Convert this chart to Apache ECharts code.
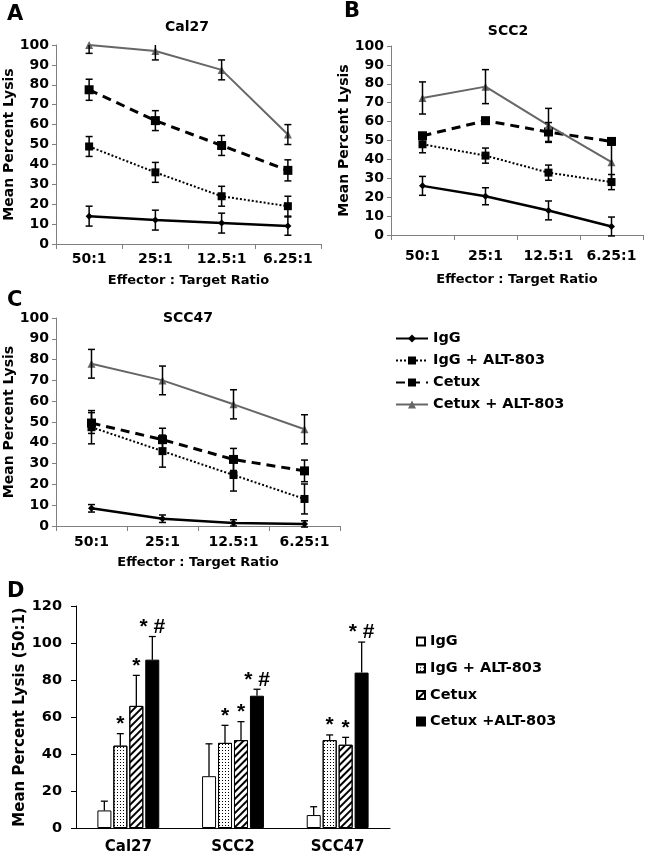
<!DOCTYPE html>
<html>
<head>
<meta charset="utf-8">
<script src="https://cdn.jsdelivr.net/npm/echarts@6/dist/echarts.min.js"></script>
<style>
  html, body { margin: 0; background: #fff; }
  #chart { width: 646px; height: 859px; }
</style>
</head>
<body>
<div id="chart"></div>
<script>
// ---- data ----
const ratios = ['50:1', '25:1', '12.5:1', '6.25:1'];
const lineNames = ['IgG', 'IgG + ALT-803', 'Cetux', 'Cetux + ALT-803'];

// rows: IgG, IgG + ALT-803, Cetux, Cetux + ALT-803
const cal27Mean = [
  [14, 12, 10.5, 9],
  [49, 36, 24, 19],
  [77.5, 62, 49.5, 37],
  [100, 97, 87.5, 55]
];
const cal27Err = [
  [5, 5, 5, 4.6],
  [5, 5, 5, 5],
  [5.3, 5, 5, 5.3],
  [4.2, 4.5, 5, 5]
];

const scc2Mean = [
  [26, 20.5, 13, 4.5],
  [48, 42, 33, 28],
  [52.5, 60.5, 54.5, 49.5],
  [72.5, 78.5, 58, 38.5]
];
const scc2Err = [
  [5, 4.5, 5, 5],
  [4.5, 4, 4, 4],
  [1.5, 1.5, 5, 1.5],
  [8.5, 9, 9, 9]
];

const scc47Mean = [
  [8.5, 3.5, 1.5, 1],
  [47.5, 36, 24.5, 13],
  [49.5, 41.5, 32, 26.5],
  [78, 70, 58.5, 46.5]
];
const scc47Err = [
  [1.8, 1.8, 1.5, 1.5],
  [8, 7.7, 7.7, 7.2],
  [5, 5.5, 5.3, 5.2],
  [6.9, 6.9, 7, 7]
];

const cellLines = ['Cal27', 'SCC2', 'SCC47'];
const barNames = ['IgG', 'IgG + ALT-803', 'Cetux', 'Cetux +ALT-803'];
const barMeans = [
  [9.5, 28, 7],
  [44.5, 46, 47.5],
  [66, 47.5, 45],
  [91, 71.5, 84]
];
const barErrs = [
  [5, 17.5, 4.5],
  [6.5, 9.5, 2.8],
  [16.5, 10, 4],
  [12.5, 3.5, 16.5]
];
const barMarks = [
  ['', '', ''],
  ['*', '*', '*'],
  ['*', '*', '*'],
  ['* #', '* #', '* #']
];

// ---- styling ----
const FONT = 'DejaVu Sans';
const GREY = '#808080';
const lineLook = [
  { color: '#000', width: 2.5, type: 'solid', symbol: 'diamond', size: 7 },
  { color: '#000', width: 2, type: [2, 2], symbol: 'rect', size: 8 },
  { color: '#000', width: 3, type: [9, 6], symbol: 'rect', size: 9 },
  { color: '#666', width: 2, type: 'solid', symbol: 'triangle', size: 8 }
];
const barFill = ['#fff', '#fff', '#fff', '#000'];
const barDecal = [
  null,
  { symbol: 'rect', symbolSize: 1, color: '#000', dashArrayX: [1, 2], dashArrayY: [1, 2], rotation: 0 },
  { symbol: 'rect', symbolSize: 1, color: '#000', dashArrayX: [1, 0], dashArrayY: [2, 2.5], rotation: -Math.PI / 4 },
  null
];
const BAR_W = 14, BAR_STEP = 16;

const panels = [
  { mean: cal27Mean, err: cal27Err, grid: { left: 56, top: 45, width: 265, height: 199 }, xGap: 30, xMargin: 8, yGap: 34 },
  { mean: scc2Mean, err: scc2Err, grid: { left: 391, top: 46, width: 252, height: 189 }, xGap: 38, xMargin: 14, yGap: 30 },
  { mean: scc47Mean, err: scc47Err, grid: { left: 56, top: 318, width: 284, height: 208 }, xGap: 30, xMargin: 9, yGap: 38 }
];

function bold(size) {
  return { color: '#000', fontFamily: FONT, fontWeight: 'bold', fontSize: size };
}

function errRender(params, api) {
  const x = api.value(0), m = api.value(1), e = api.value(2);
  const cs = params.coordSys;
  const hi = api.coord([x, m + e]);
  const lo = api.coord([x, m - e]);
  const st = { stroke: '#000', lineWidth: 1.5 };
  const w = 3.5;
  const kids = [];
  const topY = Math.max(hi[1], cs.y);
  kids.push({ type: 'line', shape: { x1: hi[0], y1: topY, x2: lo[0], y2: lo[1] }, style: st });
  if (hi[1] >= cs.y) kids.push({ type: 'line', shape: { x1: hi[0] - w, y1: hi[1], x2: hi[0] + w, y2: hi[1] }, style: st });
  kids.push({ type: 'line', shape: { x1: lo[0] - w, y1: lo[1], x2: lo[0] + w, y2: lo[1] }, style: st });
  return { type: 'group', children: kids };
}

const grids = [], xAxes = [], yAxes = [], series = [];

panels.forEach((p, g) => {
  grids.push(p.grid);
  xAxes.push({
    type: 'category', gridIndex: g, data: ratios,
    name: 'Effector : Target Ratio', nameLocation: 'middle', nameGap: p.xGap,
    nameTextStyle: bold(13),
    axisLine: { lineStyle: { color: GREY, width: 1 } },
    axisTick: { show: true, length: 5, interval: 0, lineStyle: { color: GREY } },
    axisLabel: Object.assign({ margin: p.xMargin, interval: 0 }, bold(14))
  });
  yAxes.push({
    type: 'value', gridIndex: g, min: 0, max: 100, interval: 10,
    name: 'Mean Percent Lysis', nameLocation: 'middle', nameGap: p.yGap,
    nameTextStyle: bold(14),
    axisLine: { show: true, lineStyle: { color: GREY, width: 1 } },
    axisTick: { show: true, length: 4, lineStyle: { color: GREY } },
    axisLabel: Object.assign({ margin: 7 }, bold(14)),
    splitLine: { show: false }
  });
  lineNames.forEach((nm, s) => {
    const lk = lineLook[s];
    series.push({
      type: 'line', name: nm, xAxisIndex: g, yAxisIndex: g,
      data: p.mean[s], symbol: lk.symbol, symbolSize: lk.size, showSymbol: true,
      itemStyle: { color: lk.color },
      lineStyle: { color: lk.color, width: lk.width, type: lk.type },
      z: 3
    });
  });
  lineNames.forEach((nm, s) => {
    series.push({
      type: 'custom', xAxisIndex: g, yAxisIndex: g, renderItem: errRender,
      data: p.mean[s].map((v, i) => [i, v, p.err[s][i]]), z: 4, silent: true
    });
  });
});

// panel D
grids.push({ left: 76, top: 606, width: 314, height: 222 });
xAxes.push({
  type: 'category', gridIndex: 3, data: cellLines,
  axisLine: { lineStyle: { color: '#000', width: 1 } },
  axisTick: { show: false },
  axisLabel: Object.assign({ margin: 12 }, bold(15))
});
yAxes.push({
  type: 'value', gridIndex: 3, min: 0, max: 120, interval: 20,
  name: 'Mean Percent Lysis (50:1)', nameLocation: 'middle', nameGap: 43,
  nameTextStyle: bold(15),
  axisLine: { show: true, lineStyle: { color: '#000', width: 1 } },
  axisTick: { show: true, length: 5, lineStyle: { color: '#000' } },
  axisLabel: Object.assign({ margin: 14 }, bold(14.5)),
  splitLine: { show: false }
});
barNames.forEach((nm, s) => {
  const style = { color: barFill[s], borderColor: '#000', borderWidth: 1 };
  if (barDecal[s]) style.decal = barDecal[s];
  series.push({
    type: 'bar', name: 'D: ' + nm, xAxisIndex: 3, yAxisIndex: 3,
    data: barMeans[s], barWidth: BAR_W, barGap: '14%', itemStyle: style
  });
});
barNames.forEach((nm, s) => {
  series.push({
    type: 'custom', xAxisIndex: 3, yAxisIndex: 3, silent: true, z: 4,
    data: barMeans[s].map((v, i) => [i, v, barErrs[s][i]]),
    renderItem(params, api) {
      const i = api.value(0), m = api.value(1), e = api.value(2);
      const off = (s - 1.5) * BAR_STEP;
      const base = api.coord([i, m]);
      const hi = api.coord([i, m + e]);
      const x = base[0] + off;
      const st = { stroke: '#000', lineWidth: 1.3 };
      const kids = [
        { type: 'line', shape: { x1: x, y1: base[1], x2: x, y2: hi[1] }, style: st },
        { type: 'line', shape: { x1: x - 3.5, y1: hi[1], x2: x + 3.5, y2: hi[1] }, style: st }
      ];
      const mark = barMarks[s][params.dataIndex];
      if (mark) {
        kids.push({
          type: 'text',
          style: {
            text: mark, x: x, y: hi[1] + 1, align: 'center', verticalAlign: 'bottom',
            font: 'bold 21px "Liberation Sans"', fill: '#000'
          }
        });
      }
      return { type: 'group', children: kids };
    }
  });
});

const chart = echarts.init(document.getElementById('chart'));
chart.setOption({
  animation: false,
  backgroundColor: '#fff',
  title: [
    { text: 'A', left: 7, top: 4, padding: 0, textStyle: bold(21) },
    { text: 'B', left: 344, top: 1, padding: 0, textStyle: bold(21) },
    { text: 'C', left: 7, top: 290, padding: 0, textStyle: bold(21) },
    { text: 'D', left: 7, top: 581, padding: 0, textStyle: bold(21) },
    { text: 'Cal27', left: 187, top: 20, padding: 0, textAlign: 'center', textStyle: bold(14) },
    { text: 'SCC2', left: 508, top: 24, padding: 0, textAlign: 'center', textStyle: bold(14) },
    { text: 'SCC47', left: 188, top: 311, padding: 0, textAlign: 'center', textStyle: bold(14) }
  ],
  legend: [
    {
      data: lineNames, orient: 'vertical', left: 395, top: 331, padding: 0,
      itemWidth: 32, itemHeight: 10, itemGap: 7,
      textStyle: Object.assign({ lineHeight: 15 }, bold(14.5))
    },
    {
      data: barNames.map(n => ({ name: 'D: ' + n, icon: 'rect' })),
      orient: 'vertical', left: 416, top: 634, padding: 0,
      itemWidth: 8, itemHeight: 8, itemGap: 11.7,
      formatter: n => n.slice(3),
      textStyle: Object.assign({ lineHeight: 15 }, bold(14.5))
    }
  ],
  grid: grids,
  xAxis: xAxes,
  yAxis: yAxes,
  series: series
});
</script>
</body>
</html>
